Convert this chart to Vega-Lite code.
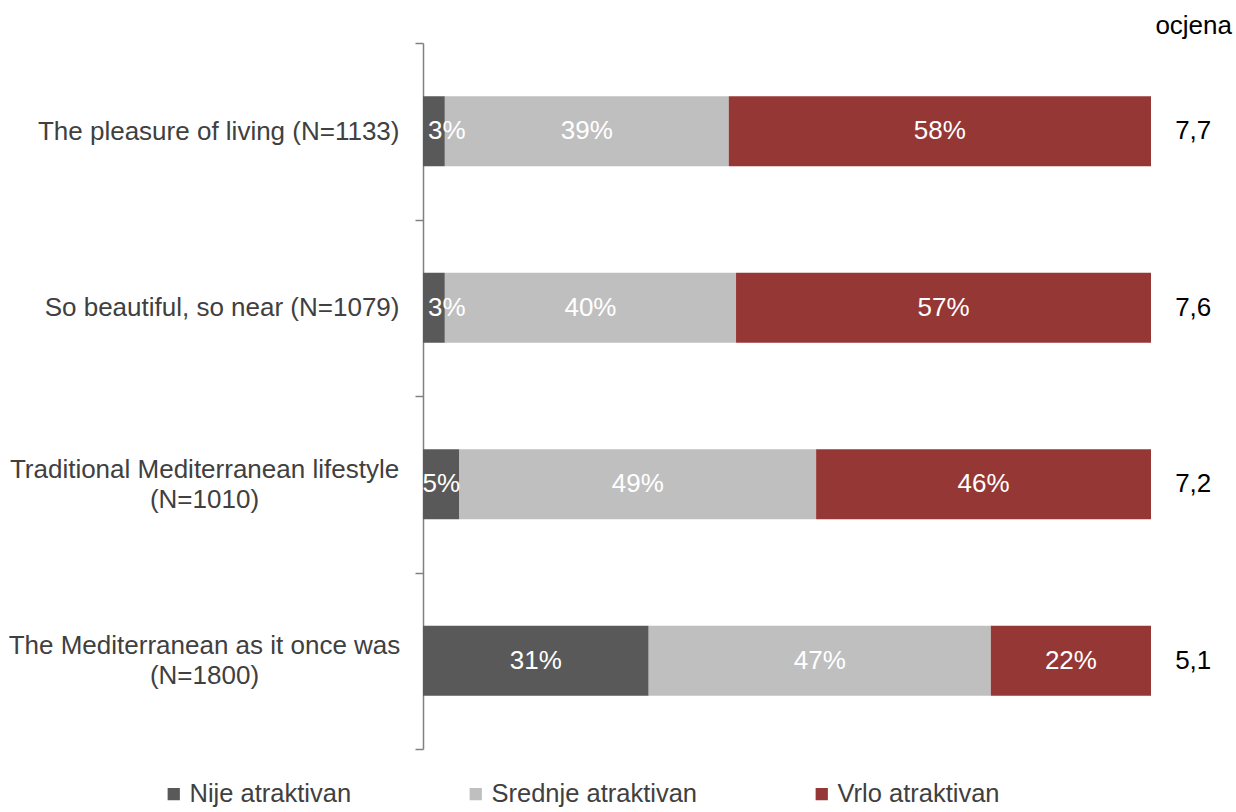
{
  "$schema": "https://vega.github.io/schema/vega-lite/v6.json",
  "autosize": "none",
  "width": 728,
  "height": 706,
  "padding": {"left": 423, "top": 43, "right": 85, "bottom": 63},
  "background": "white",
  "title": {"text": "ocjena", "anchor": "end", "frame": "group", "dx": 81, "fontSize": 26, "fontWeight": "normal", "font": "Liberation Sans", "color": "#000000", "offset": -9},
  "config": {
    "font": "Liberation Sans",
    "view": {"stroke": null},
    "locale": {"number": {"decimal": ",", "thousands": ".", "grouping": [3], "currency": ["", " €"]}}
  },
  "datasets": {
    "bars": [
      {"campaign": "The pleasure of living (N=1133)", "rating": "Nije atraktivan", "share": 0.03},
      {"campaign": "The pleasure of living (N=1133)", "rating": "Srednje atraktivan", "share": 0.39},
      {"campaign": "The pleasure of living (N=1133)", "rating": "Vrlo atraktivan", "share": 0.58},
      {"campaign": "So beautiful, so near (N=1079)", "rating": "Nije atraktivan", "share": 0.03},
      {"campaign": "So beautiful, so near (N=1079)", "rating": "Srednje atraktivan", "share": 0.40},
      {"campaign": "So beautiful, so near (N=1079)", "rating": "Vrlo atraktivan", "share": 0.57},
      {"campaign": "Traditional Mediterranean lifestyle|(N=1010)", "rating": "Nije atraktivan", "share": 0.05},
      {"campaign": "Traditional Mediterranean lifestyle|(N=1010)", "rating": "Srednje atraktivan", "share": 0.49},
      {"campaign": "Traditional Mediterranean lifestyle|(N=1010)", "rating": "Vrlo atraktivan", "share": 0.46},
      {"campaign": "The Mediterranean as it once was|(N=1800)", "rating": "Nije atraktivan", "share": 0.31},
      {"campaign": "The Mediterranean as it once was|(N=1800)", "rating": "Srednje atraktivan", "share": 0.47},
      {"campaign": "The Mediterranean as it once was|(N=1800)", "rating": "Vrlo atraktivan", "share": 0.22}
    ],
    "scores": [
      {"campaign": "The pleasure of living (N=1133)", "score": 7.7},
      {"campaign": "So beautiful, so near (N=1079)", "score": 7.6},
      {"campaign": "Traditional Mediterranean lifestyle|(N=1010)", "score": 7.2},
      {"campaign": "The Mediterranean as it once was|(N=1800)", "score": 5.1}
    ]
  },
  "encoding": {
    "y": {
      "field": "campaign",
      "type": "nominal",
      "sort": null,
      "scale": {
        "domain": ["The pleasure of living (N=1133)", "So beautiful, so near (N=1079)", "Traditional Mediterranean lifestyle|(N=1010)", "The Mediterranean as it once was|(N=1800)"],
        "paddingInner": 0,
        "paddingOuter": 0
      },
      "axis": {
        "title": null,
        "domain": true,
        "domainColor": "#808080",
        "domainWidth": 1.5,
        "ticks": true,
        "tickBand": "extent",
        "tickColor": "#808080",
        "tickWidth": 1.5,
        "tickSize": 8,
        "labelPadding": {"condition": {"test": "isValid(datum.value) && indexof(datum.value, '|') >= 0", "value": 211}, "value": 16},
        "labelAlign": {"condition": {"test": "isValid(datum.value) && indexof(datum.value, '|') >= 0", "value": "center"}, "value": "right"},
        "labelOffset": {"condition": {"test": "isValid(datum.value) && indexof(datum.value, '|') >= 0", "value": -15}, "value": 0},
        "labelFontSize": 26,
        "labelColor": "#404040",
        "labelFont": "Liberation Sans",
        "labelLimit": 500,
        "labelLineHeight": 30,
        "labelExpr": "isValid(datum.value) ? split(datum.value, '|') : ''"
      }
    }
  },
  "layer": [
    {
      "data": {"name": "bars"},
      "transform": [
        {"stack": "share", "groupby": ["campaign"], "as": ["s0", "s1"], "sort": [{"field": "rating", "order": "ascending"}]},
        {"calculate": "(datum.s0 + datum.s1) / 2", "as": "mid"}
      ],
      "layer": [
        {
          "mark": {"type": "bar", "height": 70},
          "encoding": {
            "x": {"field": "s0", "type": "quantitative", "scale": {"domain": [0, 1], "nice": false, "zero": true}, "axis": null},
            "x2": {"field": "s1"},
            "color": {
              "field": "rating",
              "type": "nominal",
              "scale": {"domain": ["Nije atraktivan", "Srednje atraktivan", "Vrlo atraktivan"], "range": ["#595959", "#BFBFBF", "#953735"]},
              "legend": {
                "title": null,
                "orient": "none",
                "legendX": -262,
                "legendY": 738,
                "direction": "horizontal",
                "symbolType": "square",
                "symbolSize": 150,
                "symbolStrokeWidth": 0,
                "labelFontSize": 25.5,
                "labelColor": "#404040",
                "labelFont": "Liberation Sans",
                "labelOffset": 3,
                "columnPadding": 111,
                "labelLimit": 400
              }
            }
          }
        },
        {
          "transform": [{"filter": "datum.share >= 0.04"}],
          "mark": {"type": "text", "color": "white", "fontSize": 26, "font": "Liberation Sans", "align": "center", "baseline": "middle"},
          "encoding": {
            "x": {"field": "mid", "type": "quantitative"},
            "text": {"field": "share", "type": "quantitative", "format": ".0%"}
          }
        },
        {
          "transform": [{"filter": "datum.share < 0.04"}],
          "mark": {"type": "text", "color": "white", "fontSize": 26, "font": "Liberation Sans", "align": "left", "baseline": "middle", "dx": 5},
          "encoding": {
            "x": {"field": "s0", "type": "quantitative"},
            "text": {"field": "share", "type": "quantitative", "format": ".0%"}
          }
        }
      ]
    },
    {
      "data": {"name": "scores"},
      "mark": {"type": "text", "color": "#000000", "fontSize": 26, "font": "Liberation Sans", "align": "center", "baseline": "middle"},
      "encoding": {
        "x": {"datum": 1.058, "type": "quantitative"},
        "text": {"field": "score", "type": "quantitative", "format": ".1f"}
      }
    }
  ]
}
